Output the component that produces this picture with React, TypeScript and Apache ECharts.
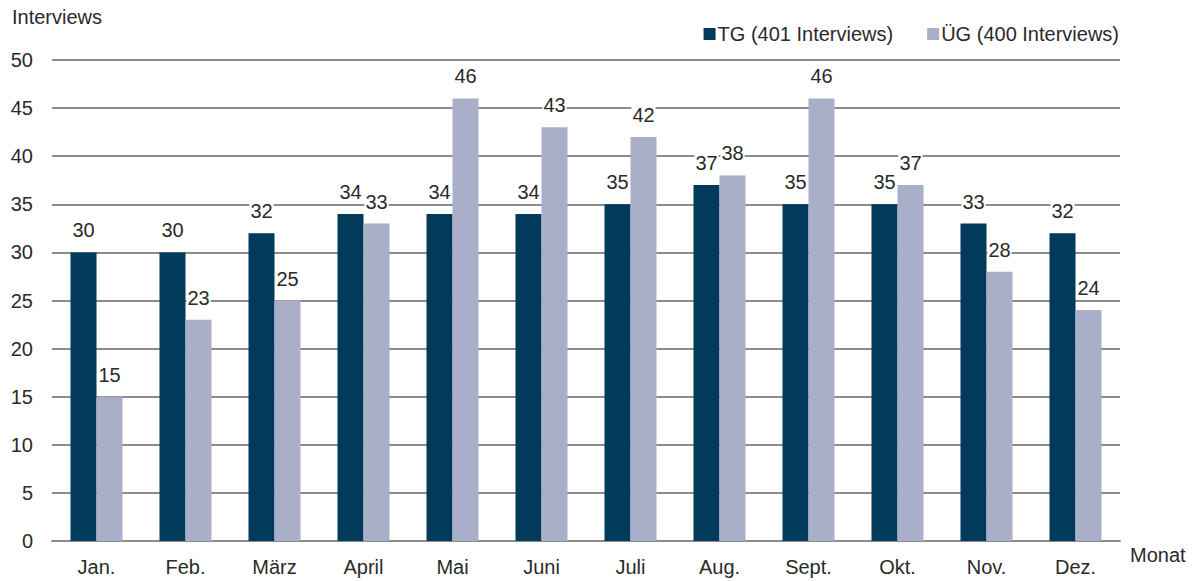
import React, { useEffect, useRef } from "react";
import * as echarts from "echarts";

const categories = ["Jan.", "Feb.", "März", "April", "Mai", "Juni", "Juli", "Aug.", "Sept.", "Okt.", "Nov.", "Dez."];
const tgValues = [30, 30, 32, 34, 34, 34, 35, 37, 35, 35, 33, 32];
const ugValues = [15, 23, 25, 33, 46, 43, 42, 38, 46, 37, 28, 24];
const seriesNames = ["TG (401 Interviews)", "ÜG (400 Interviews)"];
const yTicks = { min: 0, max: 50, interval: 5 };

const FONT = "Liberation Sans, Arial, sans-serif";
const TEXT = "#2a2a2a";
const FS = 20;

export default function App() {
  const ref = useRef<HTMLDivElement>(null);
  useEffect(() => {
    document.body.style.margin = "0";
    const chart = echarts.init(ref.current!, null, { renderer: "svg" });
    const label = {
      show: true,
      position: "top" as const,
      distance: 11,
      fontSize: FS,
      fontFamily: FONT,
      color: TEXT,
      backgroundColor: "#ffffff",
      padding: [1, 1, 1, 1],
    };
    chart.setOption({
      animation: false,
      textStyle: { fontFamily: FONT, color: TEXT },
      grid: { left: 52, right: 80, top: 60, bottom: 40, containLabel: false },
      legend: {
        right: 76,
        top: 19,
        itemWidth: 12,
        itemHeight: 12,
        itemGap: 34,
        icon: "rect",
        textStyle: { fontSize: FS, color: TEXT, fontFamily: FONT, padding: [0, 0, 0, -3] },
        data: seriesNames,
      },
      graphic: [
        { type: "text", left: 12, top: 7, style: { text: "Interviews", fontSize: FS, fill: TEXT, fontFamily: FONT } },
        { type: "text", left: 1130, top: 545, style: { text: "Monat", fontSize: FS, fill: TEXT, fontFamily: FONT } },
      ],
      xAxis: {
        type: "category",
        data: categories,
        axisTick: { show: false },
        axisLine: { show: true, lineStyle: { color: "#8c8c8c", width: 2 } },
        axisLabel: { fontSize: FS, color: TEXT, margin: 16, fontFamily: FONT },
      },
      yAxis: {
        type: "value",
        min: yTicks.min,
        max: yTicks.max,
        interval: yTicks.interval,
        axisLine: { show: false },
        axisTick: { show: false },
        axisLabel: { fontSize: FS, color: TEXT, margin: 19, fontFamily: FONT },
        splitLine: { lineStyle: { color: "#8c8c8c", width: 2 } },
      },
      series: [
        {
          name: seriesNames[0],
          type: "bar",
          data: tgValues,
          barWidth: 26,
          barGap: "0%",
          itemStyle: { color: "#013a5b" },
          label,
        },
        {
          name: seriesNames[1],
          type: "bar",
          data: ugValues,
          barWidth: 26,
          barGap: "0%",
          itemStyle: { color: "#a9aec9" },
          label,
        },
      ],
    });
    return () => chart.dispose();
  }, []);
  return <div ref={ref} style={{ width: 1200, height: 581 }} />;
}
